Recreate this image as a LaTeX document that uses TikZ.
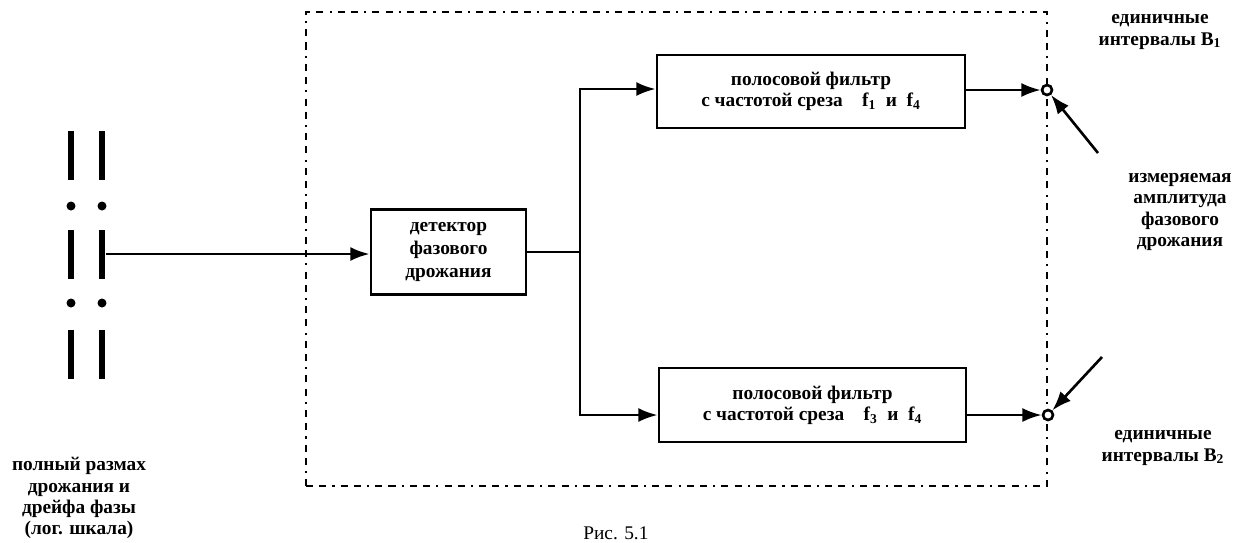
\documentclass[tikz,border=0pt]{standalone}
\usepackage{fontspec}
\setmainfont{Liberation Serif}
\usetikzlibrary{arrows.meta}
\begin{document}
\begin{tikzpicture}[x=0.02cm,y=-0.02cm,
  every node/.style={font=\fontsize{11}{12}\selectfont\bfseries},
  blk/.style={draw,line width=1.6pt,rectangle,inner sep=0pt,align=center},
  conn/.style={line width=1.5pt},
  arr/.style={conn,-{Latex[length=11pt,width=8pt]}},
  barn/.style={fill=black,rectangle,inner sep=0pt,minimum width=0.13cm,minimum height=0.98cm},
  dotn/.style={fill=black,circle,inner sep=0pt,minimum size=0.18cm},
  lbl/.style={align=center,inner sep=0pt},
  framen/.style={draw,line width=1.4pt,rectangle,inner sep=0pt,
    dash pattern=on 4pt off 3.5pt on 4pt off 3.5pt on 1.2pt off 3.5pt},
  port/.style={draw,circle,line width=1.5pt,fill=white,inner sep=0pt,minimum size=0.2cm}]
\useasboundingbox (0,0) rectangle (1239,542);

% dashed frame
\node[framen,minimum width=14.82cm,minimum height=9.48cm] (frame) at (676.5,249) {};

% scale bars and dots
\node[barn] (b1l) at (71,155.5) {};
\node[barn] (b1r) at (102,155.5) {};
\node[dotn] (d1l) at (71,206) {};
\node[dotn] (d1r) at (102,206) {};
\node[barn] (b2l) at (71,254) {};
\node[barn] (b2r) at (102,254) {};
\node[dotn] (d2l) at (71,303) {};
\node[dotn] (d2r) at (102,303) {};
\node[barn] (b3l) at (71,354.5) {};
\node[barn] (b3r) at (102,354.5) {};

% blocks
\node[blk,minimum width=3.1cm,minimum height=1.7cm] (det) at (448.5,252)
  {детектор\\[1pt]фазового\\[1pt]дрожания};
\node[blk,minimum width=6.16cm,minimum height=1.46cm] (f1) at (811,91.5)
  {полосовой фильтр\\с частотой среза\quad f\textsubscript{1}\ \ и\ \ f\textsubscript{4}};
\node[blk,minimum width=6.14cm,minimum height=1.48cm] (f2) at (812.5,405)
  {полосовой фильтр\\с частотой среза\quad f\textsubscript{3}\ \ и\ \ f\textsubscript{4}};

% output ports
\node[port] (o1) at (1047,90) {};
\node[port] (o2) at (1048,415) {};

% connectors
\draw[arr] (b2r.east) -- (b2r.east -| det.west);
\coordinate (j) at (580,252);
\coordinate (a1) at (580,89);
\coordinate (a2) at (580,415);
\draw[conn] (det.east) -- (j);
\draw[arr] (j) -- (a1) -- (a1 -| f1.west);
\draw[arr] (j) -- (a2) -- (a2 -| f2.west);
\draw[arr] (f1.east |- o1) -- (o1.west);
\draw[arr] (f2.east |- o2) -- (o2.west);

\coordinate (p1) at (1098,153);
\coordinate (p2) at (1102,357);
\draw[arr] (p1) -- (o1);
\draw[arr] (p2) -- (o2);

% labels
\node[lbl] (l1) at (1160,32) {единичные\\интервалы B\textsubscript{1}};
\node[lbl] (lm) at (1180,212) {измеряемая\\амплитуда\\фазового\\дрожания};
\node[lbl] (l2) at (1163,448) {единичные\\интервалы B\textsubscript{2}};
\node[lbl] (ll) at (79,498) {полный размах\\дрожания и\\дрейфа фазы\\(лог. шкала)};
\node[anchor=south west,inner sep=0pt,font=\fontsize{11}{13}\selectfont] (cap) at (583,540) {Рис. 5.1};
\end{tikzpicture}
\end{document}
